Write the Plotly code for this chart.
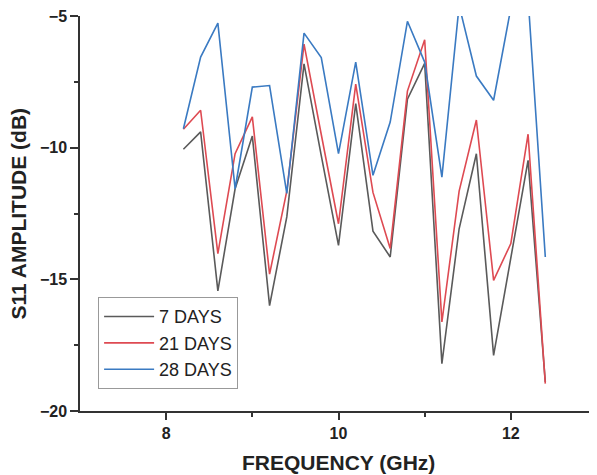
import plotly.graph_objects as go

freq = [8.2, 8.4, 8.6, 8.8, 9.0, 9.2, 9.4, 9.6, 9.8, 10.0, 10.2,
        10.4, 10.6, 10.8, 11.0, 11.2, 11.4, 11.6, 11.8, 12.0, 12.2, 12.4]

days7 = [-10.06, -9.40, -15.44, -11.56, -9.56, -16.0, -12.63, -6.82, -10.3, -13.71, -8.33,
         -13.17, -14.15, -8.16, -6.8, -18.2, -13.08, -10.23, -17.89, -14.2, -10.48, -18.9]

days21 = [-9.3, -8.58, -14.02, -10.23, -8.83, -14.8, -11.65, -6.07, -9.5, -12.89, -7.59,
          -11.7, -13.83, -7.85, -5.9, -16.62, -11.65, -8.95, -15.04, -13.64, -9.49, -18.96]

days28 = [-9.28, -6.56, -5.27, -11.56, -7.70, -7.64, -11.74, -5.65, -6.58, -10.23, -6.75,
          -11.05, -9.03, -5.20, -6.75, -11.12, -4.6, -7.28, -8.20, -4.7, -4.3, -14.15]

series_names = ["7 DAYS", "21 DAYS", "28 DAYS"]
series_colors = ["#5a5a5a", "#de4a52", "#3a7ac2"]

x_ticks = [8, 10, 12]
x_minor = [9, 11]
y_ticks = [-20, -15, -10, -5]
y_minor = [-17.5, -12.5, -7.5]

x_title = "FREQUENCY (GHz)"
y_title = "S11 AMPLITUDE (dB)"

fig = go.Figure()
for name, vals, col in zip(series_names, [days7, days21, days28], series_colors):
    fig.add_trace(go.Scatter(x=freq, y=vals, mode="lines", name=name,
                             line=dict(color=col, width=1.6)))

tickfont = dict(family="Liberation Sans, Arial, sans-serif", size=16, color="#222", weight="bold")
titlefont = dict(family="Liberation Sans, Arial, sans-serif", size=21, color="#222", weight="bold")

# page body has an 8px margin, so the figure is sized to fit within the window
fig.update_layout(
    width=589, height=467,
    margin=dict(l=72, r=0, t=8, b=64, autoexpand=False),
    plot_bgcolor="white", paper_bgcolor="white",
    showlegend=True,
    legend=dict(x=0.035, y=0.288, xanchor="left", yanchor="top", itemwidth=50,
                bgcolor="white", bordercolor="#999", borderwidth=1,
                font=dict(family="Liberation Sans, Arial, sans-serif", size=18, color="#222")),
    xaxis=dict(range=[7, 13], tickvals=x_ticks, showline=True, linecolor="#333", linewidth=1.5,
               ticks="outside", ticklen=7, tickwidth=1.5, tickcolor="#333",
               minor=dict(tickvals=x_minor, ticks="outside", ticklen=4, tickwidth=1.5, tickcolor="#333"),
               showgrid=False, zeroline=False, tickfont=tickfont, automargin=False,
               ticklabeloverflow="allow"),
    yaxis=dict(range=[-20, -5], tickvals=y_ticks, showline=True, linecolor="#333", linewidth=1.5,
               ticks="outside", ticklen=8, tickwidth=1.5, tickcolor="#333",
               minor=dict(tickvals=y_minor, ticks="outside", ticklen=4, tickwidth=1.5, tickcolor="#333"),
               showgrid=False, zeroline=False, tickfont=tickfont, automargin=False,
               ticklabeloverflow="allow"),
    annotations=[
        dict(text=x_title, xref="paper", yref="paper", x=0.5, y=-0.13,
             xanchor="center", yanchor="middle", showarrow=False, font=titlefont),
        dict(text=y_title, xref="paper", yref="paper", x=-0.118, y=0.5,
             xanchor="center", yanchor="middle", showarrow=False, font=titlefont, textangle=-90),
    ],
)

fig.write_html("out.html")
